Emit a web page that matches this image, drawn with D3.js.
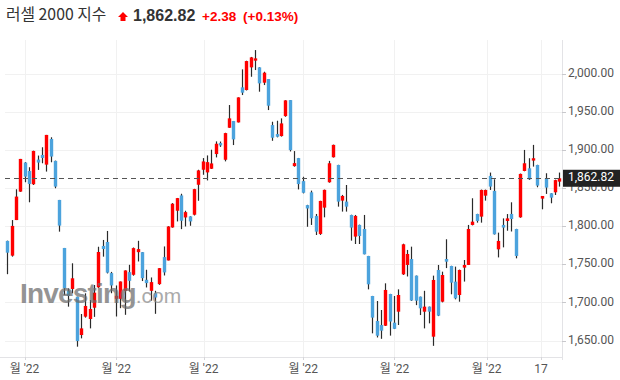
<!DOCTYPE html>
<html>
<head>
<meta charset="utf-8">
<script src="https://cdn.jsdelivr.net/npm/d3@7"></script>
<style>
  body { margin: 0; background: #fff; }
  svg { display: block; }
</style>
</head>
<body>
<svg id="chart" width="620" height="380"></svg>
<script>
// daily candles
const opens = [1780.6,1761.3,1808,1845.3,1883.4,1872.4,1855,1887.3,1893.4,1880.7,1914.4,1885.6,1834.4,1771.4,1715.4,1717.6,1707.5,1657.2,1681.3,1678.2,
  1693,1719.8,1774,1779.2,1738.4,1704.7,1704.7,1715.2,1739.7,1736.2,1765.9,1765.9,1729.6,1715.2,1712.1,1724,1759.4,1755,1798.3,1820.2,
  1840.3,1811.4,1812.8,1815,1854.3,1874,1870.5,1875.3,1894.6,1909,1887.1,1929.1,1937.9,1936.1,1982.1,1978.6,2008.3,2017.1,2008.3,1988.2,
  1993,1932.6,1920.8,1918.2,1944.4,1965.4,1878.8,1889.3,1859.1,1827.6,1844.4,1813.4,1789.8,1824.3,1857.6,1890.4,1880.3,1833.5,1832.2,1814.7,
  1786.3,1801.6,1796.3,1760.9,1708.4,1675.6,1670.3,1669.4,1711,1673.4,1687.8,1736.8,1749.1,1756.9,1735.1,1707.5,1687.8,1694.4,1655,1742.5,
  1700.9,1756.9,1747.8,1727.2,1709.7,1745.6,1749.1,1801.6,1816,1812.5,1840,1865.9,1846.2,1769.6,1801.6,1806.8,1816,1796.3,1811.6,1872.4,
  1875.9,1886,1880.3,1836.1,1862.8,1843.1,1844.4,1858.4];
const highs = [1781,1808,1848.4,1888.2,1884,1877.3,1899,1892.6,1903.5,1919.7,1916.6,1886,1834.4,1771.4,1718.4,1751.3,1707.5,1684.8,1711.9,1703.1,
  1722.8,1773,1781.9,1793.7,1740,1722.2,1727.4,1742,1749.3,1772,1780.8,1766,1742.8,1732.7,1715.2,1745,1773.4,1800,1830.3,1837,
  1842.5,1820.2,1813,1849,1874,1889.3,1892.8,1900.3,1911.2,1911,1922.5,1958.9,1938,1969,2005.7,2017,2022,2031,2008.5,2002.6,
  1993,1937,1938.3,1941.4,1965.2,1965.5,1898.5,1889.5,1864.8,1828,1846.6,1816,1833.3,1848,1885.6,1907,1880.5,1841,1854,1815,
  1814.7,1802,1814.7,1761,1708.5,1701.8,1690,1725,1711.2,1708.4,1717.1,1777,1768.8,1773.1,1735.2,1707.6,1715.2,1694.5,1735.1,1749.1,
  1740.3,1782.8,1748,1746.9,1743,1755.6,1801.6,1836.6,1816.2,1848,1848,1870.3,1861.5,1791.5,1810.2,1815.9,1831.3,1796.5,1869,1900,
  1889.1,1906.6,1880.5,1839.6,1869.4,1843.2,1861,1870.3];
const lows = [1737,1760,1808,1845,1857.6,1831.3,1854,1873.8,1882.5,1871.6,1883.8,1849.7,1792.8,1709.7,1694.4,1711.9,1641.9,1652.8,1680,1665.9,
  1681,1719,1760,1738,1712,1681.5,1692.4,1683.7,1714.3,1735,1753.7,1728,1719.6,1702.2,1685,1723,1735.3,1755,1798,1806.2,
  1796.1,1799.6,1800.5,1814,1833.3,1867.4,1860,1875,1890.2,1904,1885,1929,1906.4,1936,1972,1978,1996,2004.8,1976.4,1985.1,
  1952.3,1912,1916.5,1917.5,1943.5,1898,1878,1848.2,1843,1799.2,1801.6,1788.4,1788.5,1811.6,1857,1890,1825.6,1819.1,1819.1,1781,
  1776.6,1776.6,1763,1717.1,1659.4,1654,1652.2,1669,1656.4,1665,1670.3,1736,1734,1702,1696.4,1683.4,1665.9,1672.5,1643,1682,
  1700,1745,1710.6,1704,1700.9,1727.3,1749,1801,1804.6,1804.6,1833.5,1847.5,1789,1759,1772.2,1794,1793,1757.8,1811,1872,
  1860.6,1878.1,1851,1822.1,1842.3,1830,1840.9,1851.9];
const closes = [1765.2,1800.3,1838.8,1888.2,1865,1855.4,1898.7,1883.4,1889.5,1919.7,1891.3,1851.9,1800.7,1718.4,1708.4,1731.6,1649.3,1665.9,1695.3,1691.3,
  1712.7,1766.1,1770.1,1739,1722.2,1708.6,1727.4,1741.9,1728.3,1771.2,1769.9,1731.8,1725.3,1726.6,1706.4,1744.9,1739.3,1799.6,1829.4,1836.8,
  1807.1,1818.4,1806.2,1848.6,1873.1,1884.9,1884,1882.3,1908.1,1905.9,1922.1,1941.4,1913.8,1968.9,1975.1,2016.6,2021.4,2020.1,1987.3,2001.3,
  1958,1916,1917.3,1934.8,1965,1899.8,1882.7,1855.2,1843.8,1823.2,1810.3,1792.8,1833.1,1847.6,1882.5,1906.6,1832.2,1839.6,1825.6,1798.1,
  1813.4,1787.1,1763.1,1723.7,1680,1656.3,1662.9,1716.3,1674.9,1665.3,1709.7,1776.2,1763.5,1702.5,1702.2,1692.2,1694.4,1687.8,1729.4,1682.6,
  1735.9,1753.4,1725.9,1705.3,1742.5,1749.1,1796.3,1805.9,1806.8,1847.5,1847.5,1851.9,1789.3,1780.6,1798.1,1810.2,1809.4,1760.9,1868.5,1882.5,
  1861.5,1889.1,1853.2,1839.6,1850.6,1837.4,1860.4,1862.82];

const yTicks = [1650, 1700, 1750, 1800, 1850, 1900, 1950, 2000];
// month marks, in candle index units
const xTickPos = [4.5, 25.6, 45.7, 68.6, 89.6, 110.8, 123.3];
const xTickLabels = ["월 '22", "월 '22", "월 '22", "월 '22", "월 '22", "월 '22", "17"];

const lastPrice = 1862.82;
const change = 2.38;
const changePct = 0.13;

const svg = d3.select('#chart');
const W = 620, H = 380;
const plot = { left: 5, right: 562, top: 40, bottom: 357 };

const x = d3.scaleBand().domain(d3.range(opens.length)).range([plot.left, 561.4]);
const y = d3.scaleLinear().domain([1650, 2000]).range([340.5, 73.7]);
const step = x.step();
const xAt = (p) => x(0) + (p + 0.5) * step;
const fmt = d3.format(',.2f');

// grid
svg.append('g').selectAll('line').data(yTicks).enter().append('line')
  .attr('x1', plot.left).attr('x2', plot.right)
  .attr('y1', d => Math.round(y(d)) + 0.5).attr('y2', d => Math.round(y(d)) + 0.5)
  .attr('stroke', '#f1f1f1');
svg.append('g').selectAll('line').data(xTickPos).enter().append('line')
  .attr('x1', d => Math.round(xAt(d) - step / 2) + 0.5).attr('x2', d => Math.round(xAt(d) - step / 2) + 0.5)
  .attr('y1', plot.top).attr('y2', plot.bottom)
  .attr('stroke', '#f1f1f1');

// axes lines
svg.append('line').attr('x1', plot.right + 0.5).attr('x2', plot.right + 0.5)
  .attr('y1', plot.top).attr('y2', plot.bottom + 3).attr('stroke', '#e3e3e6');
svg.append('line').attr('x1', 0).attr('x2', plot.right)
  .attr('y1', plot.bottom + 0.5).attr('y2', plot.bottom + 0.5).attr('stroke', '#e3e3e6');

// y labels (the one behind the price tag is mostly covered, as in the source)
const yAxis = svg.append('g');
yAxis.selectAll('line').data(yTicks).enter().append('line')
  .attr('x1', plot.right).attr('x2', plot.right + 4)
  .attr('y1', d => Math.round(y(d)) + 0.5).attr('y2', d => Math.round(y(d)) + 0.5)
  .attr('stroke', '#c8c8cc');
yAxis.selectAll('text').data(yTicks).enter().append('text')
  .text(d => fmt(d))
  .attr('x', 568).attr('y', d => y(d))
  .attr('dominant-baseline', 'middle')
  .attr('font-family', 'Roboto, sans-serif').attr('font-size', 12)
  .attr('fill', '#555');

// x labels
const xAxis = svg.append('g');
xAxis.selectAll('line').data(xTickPos).enter().append('line')
  .attr('x1', d => Math.round(xAt(d) - step / 2) + 0.5).attr('x2', d => Math.round(xAt(d) - step / 2) + 0.5)
  .attr('y1', plot.bottom).attr('y2', plot.bottom + 3)
  .attr('stroke', '#d6d6da');
xAxis.selectAll('text').data(xTickPos).enter().append('text')
  .text((d, i) => xTickLabels[i])
  .attr('x', d => xAt(d) - step / 2).attr('y', 370)
  .attr('text-anchor', 'middle').attr('dominant-baseline', 'middle')
  .attr('font-family', "Roboto, 'Noto Sans CJK KR', sans-serif").attr('font-size', 12)
  .attr('fill', '#555');

// candles
const candles = svg.append('g');
const idx = d3.range(opens.length);
const up = i => closes[i] >= opens[i];
candles.selectAll('.wick').data(idx).enter().append('line')
  .classed('wick', true)
  .attr('x1', i => Math.round(x(i) + step / 2) + 0.5).attr('x2', i => Math.round(x(i) + step / 2) + 0.5)
  .attr('y1', i => y(highs[i])).attr('y2', i => y(lows[i]))
  .attr('stroke', '#2a2a2a').attr('stroke-width', 1.2);
candles.selectAll('.body').data(idx).enter().append('rect')
  .classed('body', true)
  .attr('x', i => Math.round(x(i) + step / 2) + 0.5 - 1.7)
  .attr('width', 3.4)
  .attr('y', i => y(Math.max(opens[i], closes[i])))
  .attr('height', i => Math.max(1.5, Math.abs(y(opens[i]) - y(closes[i]))))
  .attr('fill', i => up(i) ? '#ff0000' : '#4ca3dd');

// watermark
const wm = svg.append('text').attr('x', 20).attr('y', 303)
  .attr('font-family', "'Liberation Sans', Arial, sans-serif")
  .attr('opacity', 0.72);
wm.append('tspan').text('Investing').attr('font-weight', 'bold').attr('font-size', 28)
  .attr('fill', '#6b6b6b').attr('letter-spacing', -0.8);
wm.append('tspan').text('.com').attr('fill', '#8a8a8a').attr('font-size', 21);

// last price line
svg.append('line')
  .attr('x1', plot.left).attr('x2', plot.right)
  .attr('y1', Math.round(y(lastPrice)) + 0.5).attr('y2', Math.round(y(lastPrice)) + 0.5)
  .attr('stroke', '#555').attr('stroke-width', 1.2).attr('stroke-dasharray', '5,4');
svg.append('rect').attr('x', plot.right + 1).attr('y', y(lastPrice) - 8.5)
  .attr('width', W - plot.right - 1).attr('height', 17).attr('fill', '#222');
svg.append('text').text(fmt(lastPrice))
  .attr('x', 568).attr('y', y(lastPrice))
  .attr('dominant-baseline', 'middle')
  .attr('font-family', 'Roboto, sans-serif').attr('font-size', 12)
  .attr('fill', '#fff');

// title
const title = svg.append('g');
title.append('text').text('러셀 2000 지수')
  .attr('x', 6).attr('y', 20)
  .attr('font-family', "'Noto Sans CJK KR', sans-serif").attr('font-size', 15.8)
  .attr('fill', '#333');
title.append('path')
  .attr('d', 'M123,12 L128,17 L125.5,17 L125.5,21 L120.5,21 L120.5,17 L118,17 Z')
  .attr('fill', '#ff0000');
title.append('text').text(fmt(lastPrice))
  .attr('x', 133).attr('y', 20.5)
  .attr('font-family', "'Liberation Sans', Arial, sans-serif").attr('font-weight', 'bold')
  .attr('font-size', 16).attr('fill', '#333');
title.append('text').text('+' + change.toFixed(2))
  .attr('x', 202).attr('y', 20.5)
  .attr('font-family', "'Liberation Sans', Arial, sans-serif").attr('font-weight', 'bold')
  .attr('font-size', 13.5).attr('fill', '#ff0000');
title.append('text').text('(+' + changePct.toFixed(2) + '%)')
  .attr('x', 243).attr('y', 20.5)
  .attr('font-family', "'Liberation Sans', Arial, sans-serif").attr('font-weight', 'bold')
  .attr('font-size', 13.5).attr('fill', '#ff0000');
</script>
</body>
</html>
